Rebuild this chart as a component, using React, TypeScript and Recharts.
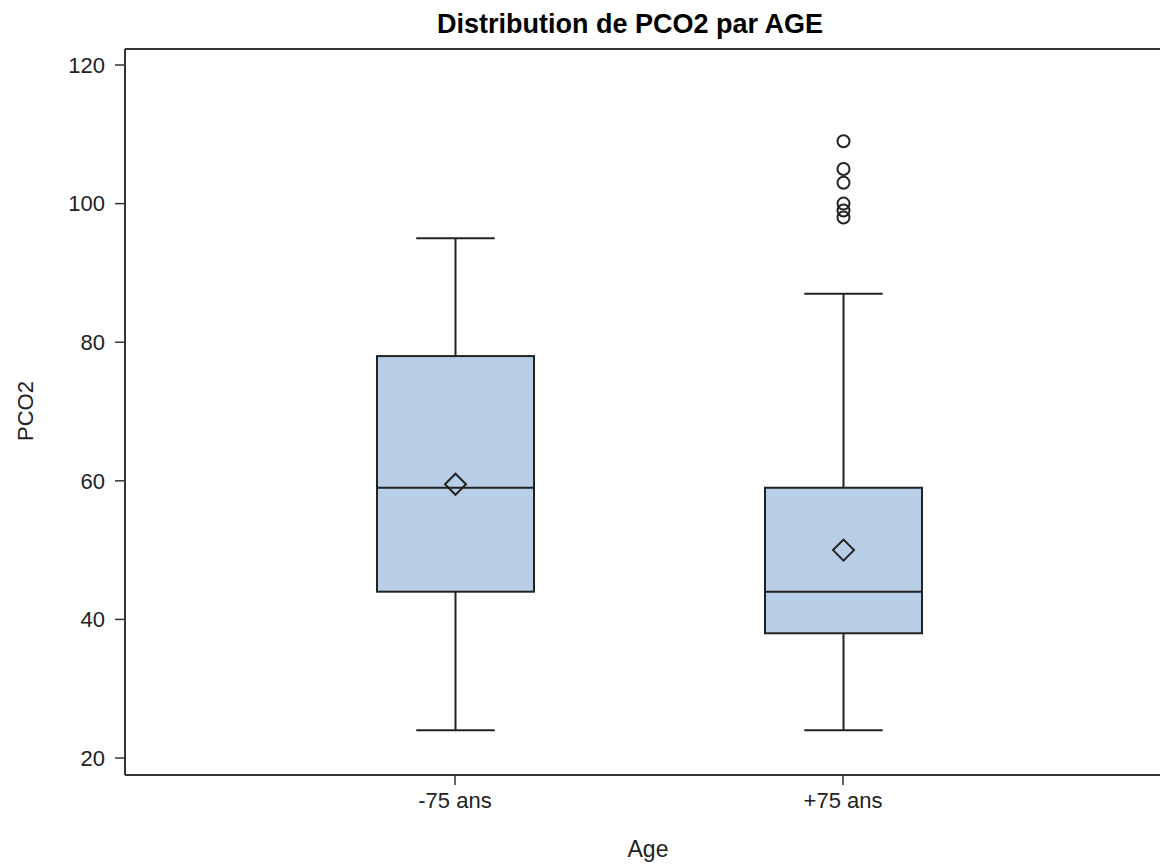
import { ComposedChart, Bar, XAxis, YAxis, ReferenceLine } from 'recharts'

const categories = ['-75 ans', '+75 ans']
const minValues = [24, 24]
const q1Values = [44, 38]
const medianValues = [59, 44]
const q3Values = [78, 59]
const maxValues = [95, 87]
const meanValues = [59.5, 50]
const outlierValues = [[], [109, 105, 103, 100, 99, 98]]
const yTicks = [20, 40, 60, 80, 100, 120]
const yDomain = [17.55, 122.31]

const data = categories.map((name, i) => ({
  name,
  range: [minValues[i], maxValues[i]],
  min: minValues[i],
  q1: q1Values[i],
  median: medianValues[i],
  q3: q3Values[i],
  max: maxValues[i],
  mean: meanValues[i],
  outliers: outlierValues[i],
}))

const INK = '#222'
const FILL = '#b8cde6'
const FONT = '"Liberation Sans", Arial, sans-serif'

// one bar per group spans min..max; the box, whiskers, mean and outliers are drawn on that scale
function BoxShape(props: any) {
  const { x, y, width, height, payload } = props
  const top = Math.min(y, y + height)
  const span = Math.abs(height)
  const toY = (v: number) => top + ((payload.max - v) / (payload.max - payload.min)) * span
  const cx = x + width / 2
  const cap = width / 4
  const yq1 = toY(payload.q1)
  const yq3 = toY(payload.q3)
  const ym = toY(payload.mean)
  const d = 10.5
  return (
    <g>
      <line x1={cx} x2={cx} y1={toY(payload.max)} y2={yq3} stroke={INK} strokeWidth={2} />
      <line x1={cx} x2={cx} y1={yq1} y2={toY(payload.min)} stroke={INK} strokeWidth={2} />
      <line x1={cx - cap} x2={cx + cap} y1={toY(payload.max)} y2={toY(payload.max)} stroke={INK} strokeWidth={2} />
      <line x1={cx - cap} x2={cx + cap} y1={toY(payload.min)} y2={toY(payload.min)} stroke={INK} strokeWidth={2} />
      <rect x={x} y={yq3} width={width} height={yq1 - yq3} fill={FILL} stroke={INK} strokeWidth={2} />
      <line x1={x} x2={x + width} y1={toY(payload.median)} y2={toY(payload.median)} stroke={INK} strokeWidth={2} />
      <path
        d={`M${cx},${ym - d} L${cx + d},${ym} L${cx},${ym + d} L${cx - d},${ym} Z`}
        fill="none"
        stroke={INK}
        strokeWidth={2}
      />
      {payload.outliers.map((v: number, i: number) => (
        <circle key={i} cx={cx} cy={toY(v)} r={6} fill="none" stroke={INK} strokeWidth={2} />
      ))}
    </g>
  )
}

export default function App() {
  return (
    <div style={{ position: 'relative', width: 1160, height: 857, overflow: 'hidden', background: '#fff' }}>
      <style>{'html,body{overflow:hidden}'}</style>
      <ComposedChart
        width={1180}
        height={857}
        data={data}
        margin={{ top: 41, right: 15, bottom: 50, left: 0 }}
      >
        <XAxis
          dataKey="name"
          padding={{ left: 136, right: 136 }}
          height={40}
          tickSize={10}
          tickMargin={7}
          axisLine={{ stroke: '#333', strokeWidth: 2 }}
          tickLine={{ stroke: '#333', strokeWidth: 1.5 }}
          tick={{ fill: INK, fontSize: 22, fontFamily: FONT }}
        />
        <YAxis
          type="number"
          domain={yDomain}
          allowDataOverflow
          ticks={yTicks}
          width={117}
          tickSize={10}
          tickMargin={10}
          axisLine={{ stroke: '#333', strokeWidth: 2 }}
          tickLine={{ stroke: '#333', strokeWidth: 1.5 }}
          tick={{ fill: INK, fontSize: 22, fontFamily: FONT }}
        />
        <ReferenceLine y={yDomain[1]} stroke="#333" strokeWidth={2} />
        <Bar dataKey="range" barSize={157} shape={BoxShape} isAnimationActive={false} />
      </ComposedChart>
      <svg
        width={1160}
        height={857}
        style={{ position: 'absolute', left: 0, top: 0, pointerEvents: 'none' }}
        fontFamily={FONT}
      >
        <text x={622} y={25} textAnchor="middle" fontSize={27} fontWeight="bold" fill="#000">
          Distribution de PCO2 par AGE
        </text>
        <text transform="translate(25,403) rotate(-90)" textAnchor="middle" fontSize={22} fill={INK}>
          PCO2
        </text>
        <text x={640} y={849} textAnchor="middle" fontSize={23} fill={INK}>
          Age
        </text>
      </svg>
    </div>
  )
}
